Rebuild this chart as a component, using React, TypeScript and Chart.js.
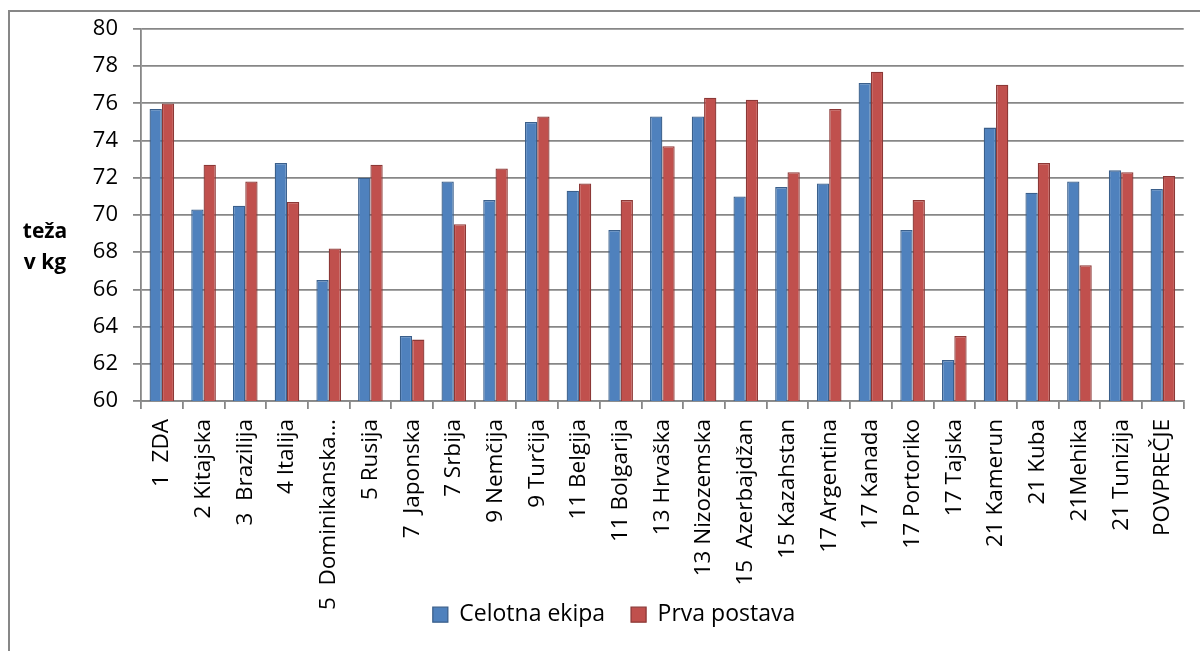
import { useEffect, useRef } from "react";
import { Chart, registerables } from "chart.js";

Chart.register(...registerables);

const categories = [
  "1  ZDA",
  "2 Kitajska",
  "3  Brazilija",
  "4 Italija",
  "5  Dominikanska…",
  "5 Rusija",
  "7  Japonska",
  "7 Srbija",
  "9 Nemčija",
  "9 Turčija",
  "11 Belgija",
  "11 Bolgarija",
  "13 Hrvaška",
  "13 Nizozemska",
  "15  Azerbajdžan",
  "15 Kazahstan",
  "17 Argentina",
  "17 Kanada",
  "17 Portoriko",
  "17 Tajska",
  "21 Kamerun",
  "21 Kuba",
  "21Mehika",
  "21 Tunizija",
  "POVPREČJE",
];

const celotnaEkipa = [
  75.7, 70.3, 70.5, 72.8, 66.5, 72.0, 63.5, 71.8, 70.8, 75.0, 71.3, 69.2, 75.3,
  75.3, 71.0, 71.5, 71.7, 77.1, 69.2, 62.2, 74.7, 71.2, 71.8, 72.4, 71.4,
];

const prvaPostava = [
  76.0, 72.7, 71.8, 70.7, 68.2, 72.7, 63.3, 69.5, 72.5, 75.3, 71.7, 70.8, 73.7,
  76.3, 76.2, 72.3, 75.7, 77.7, 70.8, 63.5, 77.0, 72.8, 67.3, 72.3, 72.1,
];

const seriesNames = ["Celotna ekipa", "Prva postava"];
const axisTitleLines = ["teža", "v kg"];
const yMin = 60;
const yMax = 80;
const yStep = 2;

const FONT = "'Open Sans', sans-serif";
const GRID = "#878787";
const LEGEND_SIZE = 23;
const LEGEND_PAD = 26;
const LEGEND_CENTER_Y = 617;

export default function App() {
  const ref = useRef<HTMLCanvasElement>(null);

  useEffect(() => {
    if (!ref.current) return;
    const titlePlugin = {
      id: "yTitleHorizontal",
      afterDraw(chart: any) {
        const ctx = chart.ctx;
        ctx.save();
        ctx.font = `bold 21px ${FONT}`;
        ctx.fillStyle = "#000";
        ctx.textAlign = "center";
        ctx.textBaseline = "middle";
        ctx.fillText(axisTitleLines[0], 45, 232);
        ctx.fillText(axisTitleLines[1], 45, 263);
        ctx.restore();
      },
    };
    const legendPlace = {
      id: "legendPlace",
      afterLayout(chart: any) {
        const lg = chart.legend;
        if (!lg) return;
        const itemH = Math.max(15, LEGEND_SIZE * 1.2);
        lg.top = LEGEND_CENTER_Y - LEGEND_PAD - itemH / 2;
        lg.bottom = 651;
        lg.height = lg.bottom - lg.top;
      },
    };

    const chart = new Chart(ref.current, {
      type: "bar",
      data: {
        labels: categories,
        datasets: [
          {
            label: seriesNames[0],
            data: celotnaEkipa,
            backgroundColor: "#4F81BD",
            borderColor: "#3A5F8B",
            borderWidth: 1.3,
          },
          {
            label: seriesNames[1],
            data: prvaPostava,
            backgroundColor: "#C0504D",
            borderColor: "#8C3836",
            borderWidth: 1.3,
          },
        ],
      },
      options: {
        responsive: false,
        animation: false,
        datasets: {
          bar: { categoryPercentage: 0.59, barPercentage: 1 },
        },
        layout: { padding: { left: 35, right: 7, top: 29, bottom: 0 } },
        scales: {
          x: {
            grid: {
              offset: true,
              drawOnChartArea: false,
              drawTicks: true,
              tickLength: 8,
              color: GRID,
              lineWidth: 1.8,
            },
            border: { color: GRID, width: 1.8 },
            ticks: {
              autoSkip: false,
              minRotation: 90,
              maxRotation: 90,
              padding: 10,
              color: "#000",
              font: { family: FONT, size: 22.5 },
            },
            afterFit: (s: any) => {
              const lh = s.chart.legend ? s.chart.legend.height : 0;
              s.height = 651 - 401 - lh;
            },
          },
          y: {
            min: yMin,
            max: yMax,
            ticks: {
              stepSize: yStep,
              padding: 15,
              color: "#000",
              font: { family: FONT, size: 22 },
            },
            grid: { color: GRID, lineWidth: 1.8, tickLength: 8 },
            border: { color: GRID, width: 1.8 },
            afterFit: (s: any) => {
              s.width = 106;
            },
          },
        },
        plugins: {
          legend: {
            position: "bottom",
            maxHeight: 14,
            labels: {
              boxWidth: 15,
              boxHeight: 15,
              padding: LEGEND_PAD,
              color: "#000",
              font: { family: FONT, size: LEGEND_SIZE },
            },
          },
          tooltip: { enabled: false },
        },
      },
      plugins: [titlePlugin, legendPlace],
    });
    return () => chart.destroy();
  }, []);

  return (
    <div
      style={{
        position: "absolute",
        left: 0,
        top: 0,
        width: 1200,
        height: 651,
        overflow: "hidden",
        background: "#fff",
      }}
    >
      <div
        style={{
          position: "absolute",
          left: 8,
          top: 10,
          width: 1300,
          height: 800,
          borderLeft: "2px solid #878787",
          borderTop: "2px solid #878787",
        }}
      />
      <canvas
        ref={ref}
        width={1200}
        height={651}
        style={{ position: "absolute", left: 0, top: 0 }}
      />
    </div>
  );
}
